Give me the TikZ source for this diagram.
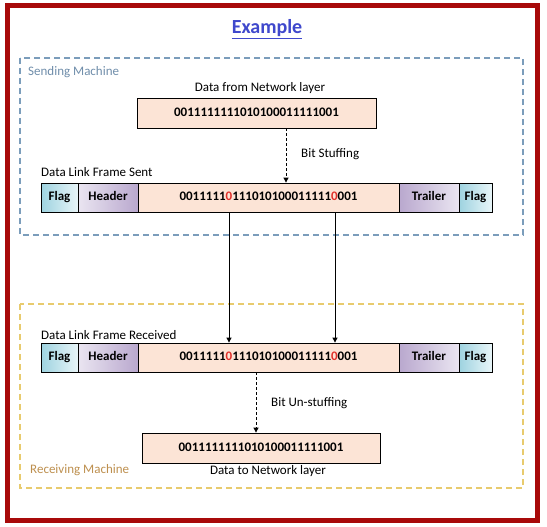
\documentclass[tikz,border=0pt]{standalone}
\usepackage{fontspec}
\setmainfont{Carlito}
\usetikzlibrary{arrows.meta}
\definecolor{peach}{HTML}{FCE4D6}
\definecolor{flagdark}{HTML}{9ED3E0}
\definecolor{flaglight}{HTML}{E8F5F8}
\definecolor{lavdark}{HTML}{B9A8CE}
\definecolor{lavlight}{HTML}{EAE5F1}
\definecolor{framered}{HTML}{A80A0A}
\definecolor{titleblue}{HTML}{3F48CC}
\definecolor{sendblue}{HTML}{7B9DBB}
\definecolor{sendtext}{HTML}{6F8DAA}
\definecolor{recvgold}{HTML}{E8CB6E}
\definecolor{recvtext}{HTML}{BD8F4E}
\definecolor{bitred}{HTML}{E0302A}
\begin{document}
\begin{tikzpicture}[x=1pt,y=-1pt,
  txt/.style={font=\fontsize{13}{15}\selectfont, inner sep=0pt},
  cell/.style={draw=black, line width=0.8pt, minimum height=29pt, inner sep=0pt,
    text height=9pt, text depth=2.5pt,
    font=\fontsize{13}{15}\selectfont\bfseries},
  databox/.style={cell, fill=peach},
  flagbox/.style={cell, left color=flagdark, right color=flaglight},
  hdrbox/.style={cell, left color=lavlight, right color=lavdark},
  trlbox/.style={cell, left color=lavdark, right color=lavlight},
  dasharrow/.style={densely dashed, line width=0.8pt, -{Triangle[length=5pt,width=5pt]}},
  solidarrow/.style={line width=0.8pt, -{Triangle[length=5pt,width=5pt]}},
  sendframe/.style={draw=sendblue, line width=1.5pt, dash pattern=on 6pt off 4pt},
  recvframe/.style={draw=recvgold, line width=1.5pt, dash pattern=on 6pt off 4pt}]
\useasboundingbox (0,0) rectangle (547,527);
% outer red frame
\draw[framered, line width=5pt] (7.5,5.5) rectangle (537.5,520.5);
% title
\node[font=\fontsize{20}{24}\selectfont\bfseries, text=titleblue] (title) at (267,29) {\underline{Example}};
% machine boxes
\draw[sendframe] (20,58) rectangle (523,235);
\draw[recvframe] (20,304) rectangle (523,488);
\node[txt, text=sendtext, anchor=west] (sendlbl) at (28,72) {Sending Machine};
\node[txt, text=recvtext, anchor=west] (recvlbl) at (30,470) {Receiving Machine};
% network layer input
\node[databox, minimum width=239pt, minimum height=30pt] (netin) at (256.5,113) {0011111111010100011111001};
\node[txt] (netinlbl) at (260,88) {Data from Network layer};
% sent frame
\node[txt, anchor=west] (sentlbl) at (41,172) {Data Link Frame Sent};
\node[flagbox, minimum width=37pt] (fs1) at (59.5,197.5) {Flag};
\node[hdrbox, minimum width=60pt] (hs) at (108,197.5) {Header};
\node[databox, minimum width=261pt] (ds) at (268.5,197.5) {0011111\textcolor{bitred}{0}111010100011111\textcolor{bitred}{0}001};
\node[trlbox, minimum width=60pt] (ts) at (429,197.5) {Trailer};
\node[flagbox, minimum width=33pt] (fs2) at (475.5,197.5) {Flag};
\node[txt, anchor=west] (stufflbl) at (301,154) {Bit Stuffing};
% received frame
\node[txt, anchor=west] (recvframelbl) at (41,335) {Data Link Frame Received};
\node[flagbox, minimum width=37pt] (fr1) at (59.5,357.5) {Flag};
\node[hdrbox, minimum width=60pt] (hr) at (108,357.5) {Header};
\node[databox, minimum width=261pt] (dr) at (268.5,357.5) {0011111\textcolor{bitred}{0}111010100011111\textcolor{bitred}{0}001};
\node[trlbox, minimum width=60pt] (tr) at (429,357.5) {Trailer};
\node[flagbox, minimum width=33pt] (fr2) at (475.5,357.5) {Flag};
\node[txt, anchor=west] (unstufflbl) at (271,403) {Bit Un-stuffing};
% network layer output
\node[databox, minimum width=238pt, minimum height=30pt] (netout) at (261,448) {0011111111010100011111001};
\node[txt] (netoutlbl) at (268,471) {Data to Network layer};
% connectors
\coordinate (ax1) at (286,0);
\coordinate (ax2) at (229,0);
\coordinate (ax3) at (335,0);
\coordinate (ax4) at (256,0);
\draw[dasharrow] (netin.south -| ax1) -- (ds.north -| ax1);
\draw[solidarrow] (ds.south -| ax2) -- (dr.north -| ax2);
\draw[solidarrow] (ds.south -| ax3) -- (dr.north -| ax3);
\draw[dasharrow] (dr.south -| ax4) -- (netout.north -| ax4);
\end{tikzpicture}
\end{document}
